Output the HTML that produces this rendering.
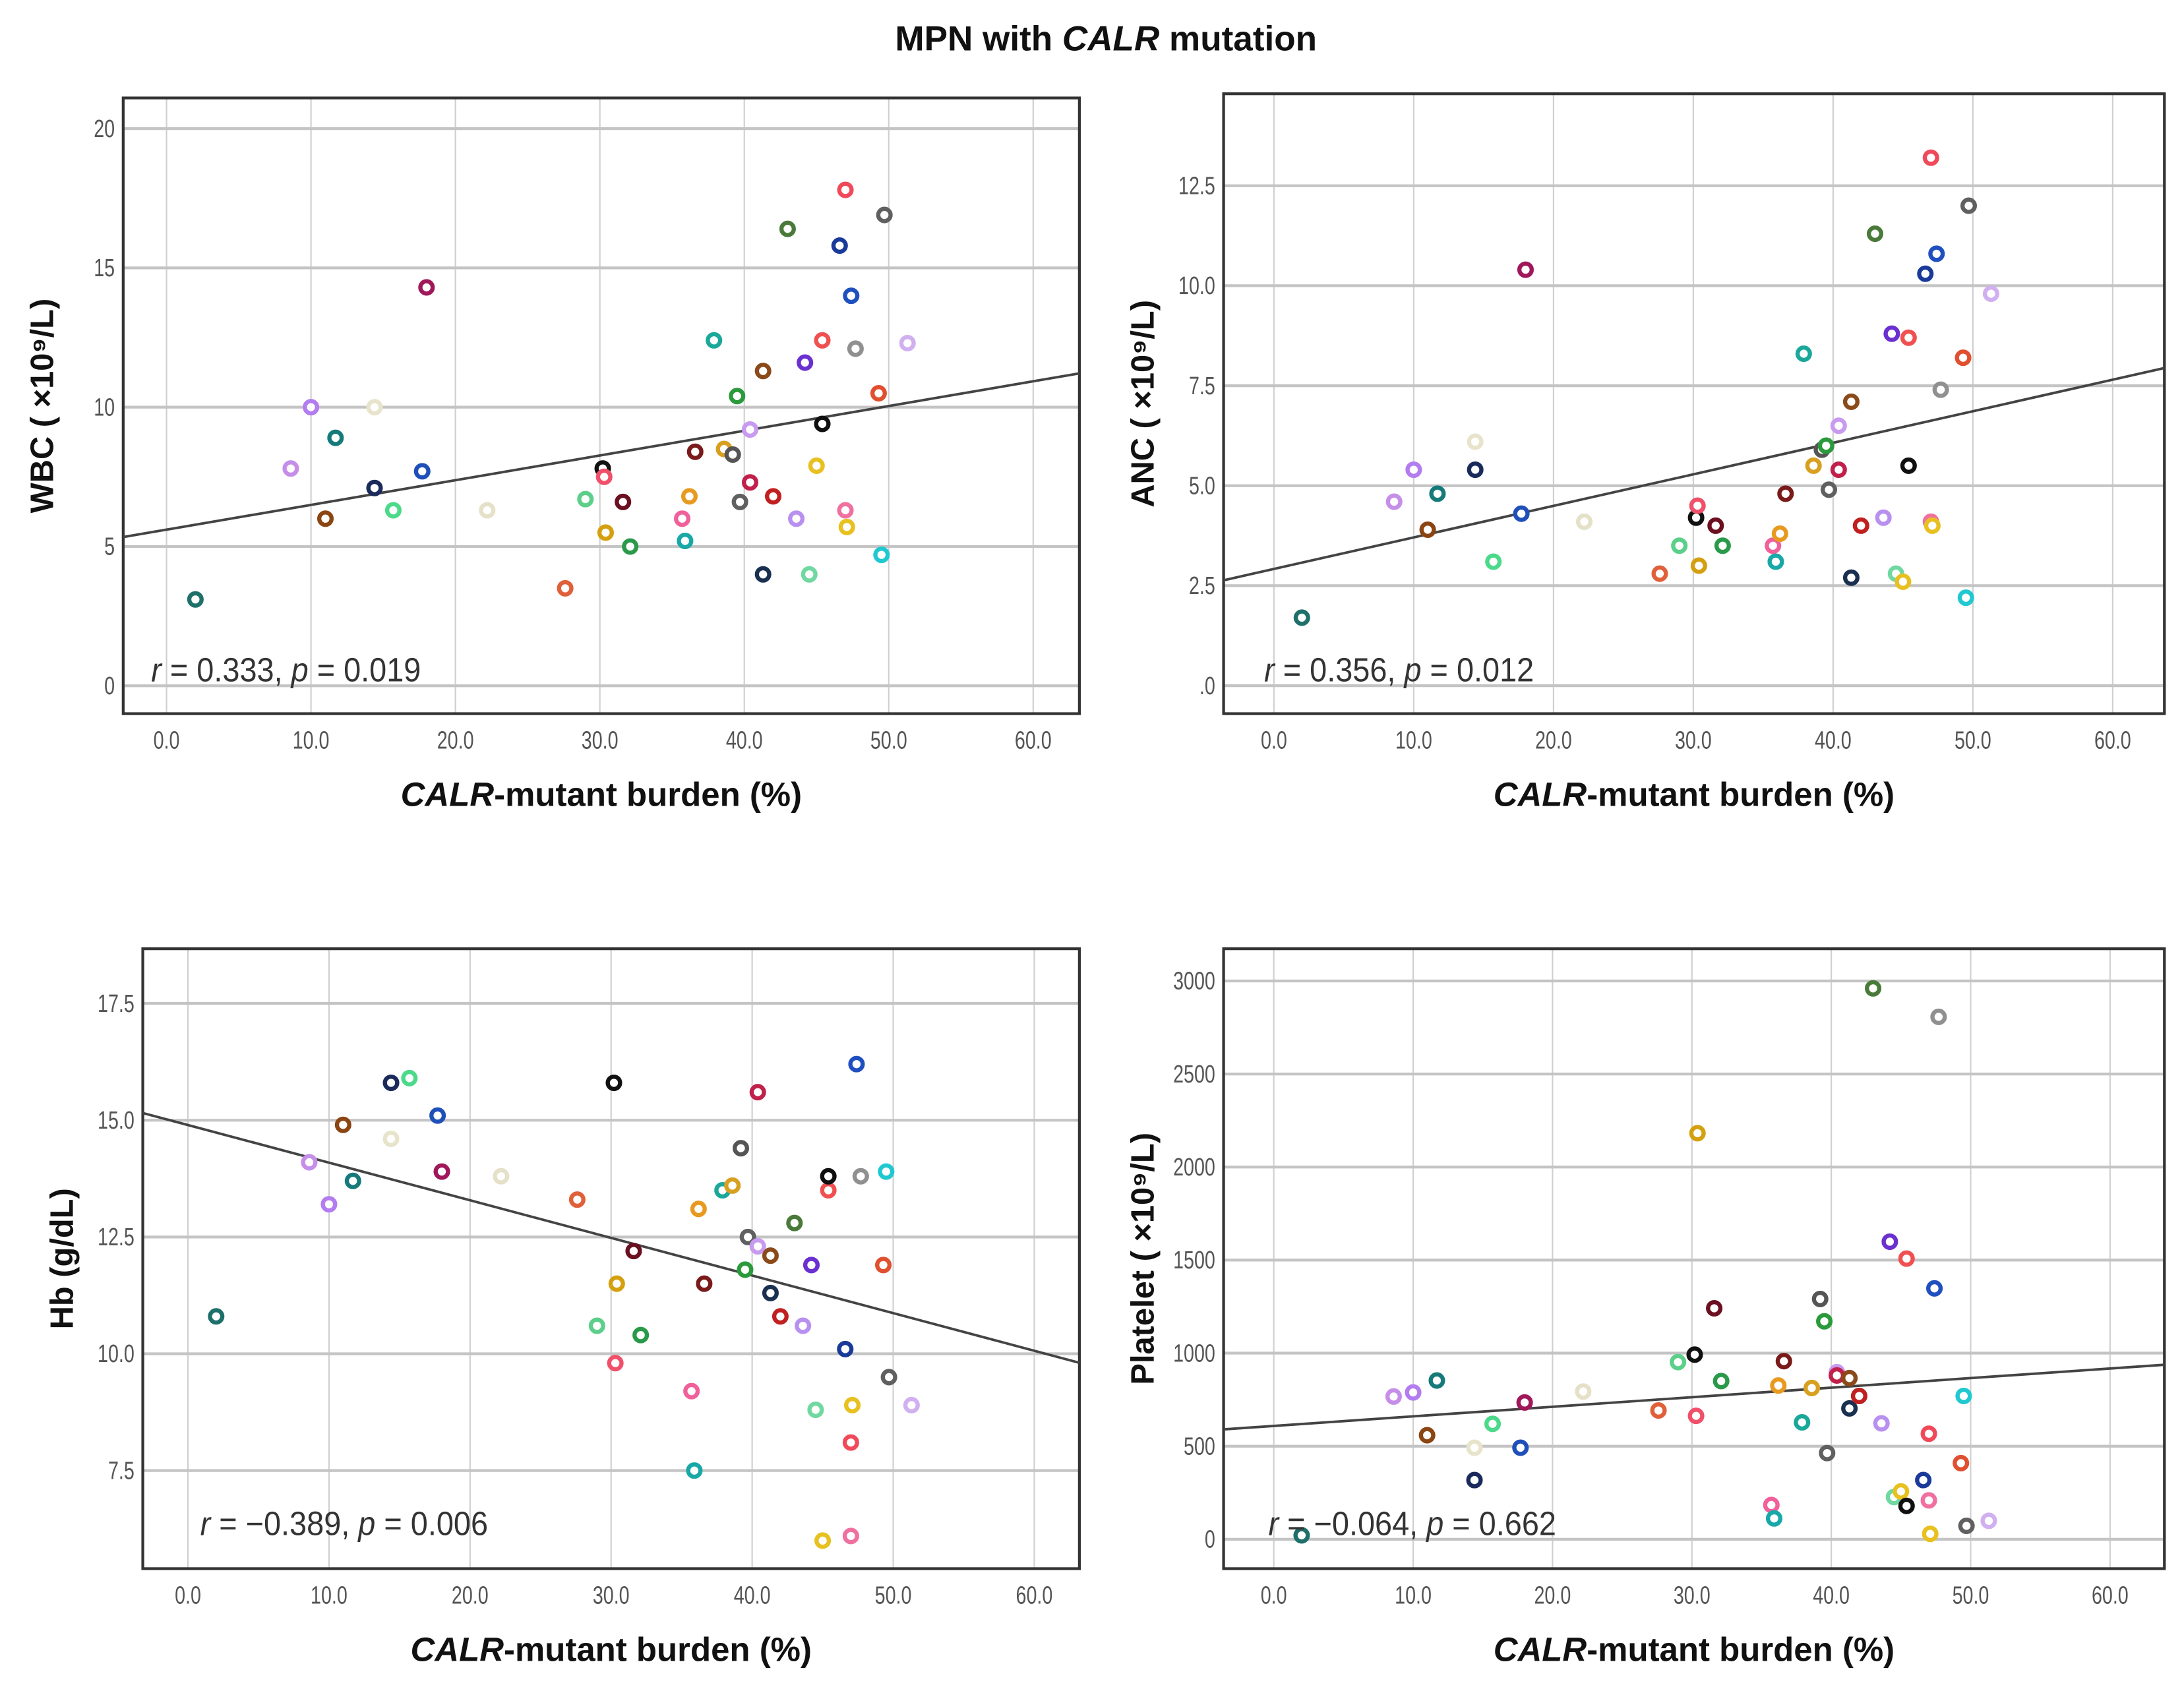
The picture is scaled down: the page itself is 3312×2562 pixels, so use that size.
<!DOCTYPE html>
<html><head><meta charset="utf-8"><style>
html,body{margin:0;padding:0;background:#fff;}
svg{display:block;}
text{font-family:"Liberation Sans",sans-serif;}
</style></head><body>
<svg id="chart" width="3312" height="2562" viewBox="0 0 1560 1207" preserveAspectRatio="none" xmlns="http://www.w3.org/2000/svg">
<rect width="1560" height="1207" fill="#fff"/>
<text x="790" y="36" text-anchor="middle" font-size="25" font-weight="bold" fill="#111">MPN with <tspan font-style="italic">CALR</tspan> mutation</text>
</svg>
<script>
const burden = [2.0,8.6,10.0,11.0,11.7,14.4,14.4,15.7,17.7,18.0,22.2,27.6,29.0,30.2,30.3,30.4,31.6,32.1,35.7,35.9,36.2,36.6,37.9,38.6,39.2,39.5,39.7,40.4,40.4,41.3,41.3,42.0,43.0,43.6,44.2,44.5,45.0,45.4,45.4,46.6,47.0,47.0,47.1,47.4,47.7,49.3,49.5,49.7,51.3];
const wbc = [3.1,7.8,10.0,6.0,8.9,7.1,10.0,6.3,7.7,14.3,6.3,3.5,6.7,7.8,7.5,5.5,6.6,5.0,6.0,5.2,6.8,8.4,12.4,8.5,8.3,10.4,6.6,9.2,7.3,4.0,11.3,6.8,16.4,6.0,11.6,4.0,7.9,12.4,9.4,15.8,17.8,6.3,5.7,14.0,12.1,10.5,4.7,16.9,12.3];
const anc = [1.7,4.6,5.4,3.9,4.8,5.4,6.1,3.1,4.3,10.4,4.1,2.8,3.5,4.2,4.5,3.0,4.0,3.5,3.5,3.1,3.8,4.8,8.3,5.5,5.9,6.0,4.9,6.5,5.4,2.7,7.1,4.0,11.3,4.2,8.8,2.8,2.6,8.7,5.5,10.3,13.2,4.1,4.0,10.8,7.4,8.2,2.2,12.0,9.8];
const hb = [10.8,14.1,13.2,14.9,13.7,15.8,14.6,15.9,15.1,13.9,13.8,13.3,10.6,15.8,9.8,11.5,12.2,10.4,9.2,7.5,13.1,11.5,13.5,13.6,14.4,11.8,12.5,12.3,15.6,11.3,12.1,10.8,12.8,10.6,11.9,8.8,6.0,13.5,13.8,10.1,8.1,6.1,8.9,16.2,13.8,11.9,13.9,9.5,8.9];
const platelet = [21,767,789,559,853,318,492,620,492,735,794,692,952,992,663,2182,1241,850,184,112,826,957,628,813,1291,1171,463,898,880,703,866,770,2960,623,1599,227,257,1508,179,318,567,209,29,1348,2807,409,770,72,99];
const pointColors = ["#1f6f6a","#c58ee8","#b37cf0","#8b4513","#177a7a","#1a2a5a","#e8e4cc","#4cd98a","#1f4fb8","#a0175a","#e5e0c8","#e0603a","#5ccf8a","#111111","#f0506a","#d4a010","#6b1020","#2a9a4a","#f0609a","#18a8a8","#e89a20","#7a1a1a","#1aa89a","#d8a020","#555555","#2a9a3a","#606060","#c89af0","#c0204a","#1a3050","#8b4a1a","#c02020","#4a7a3a","#b890f0","#6a30d0","#70d8a0","#e8c020","#f05050","#101010","#1a3a9a","#f04a5a","#f070a0","#e8c020","#2050c0","#909090","#e05030","#20c8d0","#606060","#d0b0f0"];
const xTicks = [0,10,20,30,40,50,60];
const xTickLabels = ["0.0","10.0","20.0","30.0","40.0","50.0","60.0"];
const wbcTicks = [0,5,10,15,20];
const wbcTickLabels = ["0","5","10","15","20"];
const ancTicks = [0,2.5,5,7.5,10,12.5];
const ancTickLabels = [".0","2.5","5.0","7.5","10.0","12.5"];
const hbTicks = [7.5,10,12.5,15,17.5];
const hbTickLabels = ["7.5","10.0","12.5","15.0","17.5"];
const pltTicks = [0,500,1000,1500,2000,2500,3000];
const pltTickLabels = ["0","500","1000","1500","2000","2500","3000"];
const statLabels = ["=  0.333, ","=  0.019","= 0.356, ","= 0.012","= \u22120.389, ","= 0.006","= \u22120.064, ","= 0.662"];

const NS="http://www.w3.org/2000/svg";
const svg=document.getElementById('chart');
function mk(tag,attrs,parent){const e=document.createElementNS(NS,tag);for(const k in attrs)e.setAttribute(k,attrs[k]);(parent||svg).appendChild(e);return e;}

const panels=[
 {name:'wbc',L:88,R:771,T:70,B:510,x0:-3.0,x1:63.2,y0:-1.0,y1:21.1,vals:wbc,ticks:wbcTicks,labels:wbcTickLabels,title:'WBC ( \u00d710\u2079/L)',stat:[108,487],si:0,xt:567},
 {name:'anc',L:874,R:1546,T:67,B:510,x0:-3.6,x1:63.7,y0:-0.7,y1:14.8,vals:anc,ticks:ancTicks,labels:ancTickLabels,title:'ANC ( \u00d710\u2079/L)',stat:[903,487],si:2,xt:567},
 {name:'hb',L:102,R:771,T:678,B:1121,x0:-3.2,x1:63.2,y0:5.4,y1:18.67,vals:hb,ticks:hbTicks,labels:hbTickLabels,title:'Hb (g/dL)',stat:[143,1097],si:4,xt:1178},
 {name:'platelet',L:874,R:1546,T:678,B:1121,x0:-3.6,x1:63.9,y0:-158,y1:3173,vals:platelet,ticks:pltTicks,labels:pltTickLabels,title:'Platelet ( \u00d710\u2079/L)',stat:[906,1097],si:6,xt:1178}
];

panels.forEach(p=>{
 const g=mk('g',{});
 
 
 const sx=v=>p.L+(v-p.x0)/(p.x1-p.x0)*(p.R-p.L);
 const sy=v=>p.B-(v-p.y0)/(p.y1-p.y0)*(p.B-p.T);
 xTicks.forEach((t,i)=>{
  const l=mk('line',{x1:sx(t),x2:sx(t),y1:p.T,y2:p.B,stroke:'#cfcfcf','stroke-width':1},g);
  
  
  const tx=mk('text',{x:sx(t),y:p.B+25,'text-anchor':'middle','font-size':18,fill:'#555',transform:`translate(${sx(t)},0) scale(0.75,1) translate(${-sx(t)},0)`},g);
  tx.textContent=xTickLabels[i];
  
  
 });
 p.ticks.forEach((t,i)=>{
  const l=mk('line',{x1:p.L,x2:p.R,y1:sy(t),y2:sy(t),stroke:'#c4c4c4','stroke-width':2},g);
  
  
  const tx=mk('text',{x:p.L-6,y:sy(t)+6,'text-anchor':'end','font-size':18,fill:'#555',transform:`translate(${p.L-6},0) scale(0.75,1) translate(${-(p.L-6)},0)`},g);
  tx.textContent=p.labels[i];
  
  
 });
 const fr=mk('rect',{x:p.L,y:p.T,width:p.R-p.L,height:p.B-p.T,fill:'none',stroke:'#333','stroke-width':2},g);
 
 
 const n=burden.length;let mx=0,my=0;for(let i=0;i<n;i++){mx+=burden[i];my+=p.vals[i];}mx/=n;my/=n;
 let sxy=0,sxx=0;for(let i=0;i<n;i++){sxy+=(burden[i]-mx)*(p.vals[i]-my);sxx+=(burden[i]-mx)**2;}
 const b=sxy/sxx,a=my-b*mx;
 const rl=mk('line',{x1:p.L,y1:sy(a+b*p.x0),x2:p.R,y2:sy(a+b*p.x1),stroke:'#444','stroke-width':1.8},g);
 
 
 burden.forEach((x,i)=>{
  const c=mk('circle',{cx:sx(x),cy:sy(p.vals[i]),r:4.4,fill:'#fff',stroke:pointColors[i],'stroke-width':3},g);
  
  
 });
 const st=mk('text',{x:p.stat[0],y:p.stat[1],'font-size':24,fill:'#333',transform:`translate(${p.stat[0]},0) scale(0.92,1) translate(${-p.stat[0]},0)`},g);
 st.innerHTML=`<tspan font-style="italic">r</tspan> ${statLabels[p.si]}<tspan font-style="italic">p</tspan> ${statLabels[p.si+1]}`;
 
 
 const cx=(p.L+p.R)/2;
 const xt=mk('text',{x:cx,y:p.xt+9,'text-anchor':'middle','font-size':24,'font-weight':'bold',fill:'#111'},g);
 xt.innerHTML='<tspan font-style="italic">CALR</tspan>-mutant burden (%)';
 
 
 const cy=(p.T+p.B)/2, tx0=p.L-50;
 const yt=mk('text',{x:tx0,y:cy,'text-anchor':'middle','font-size':23,'font-weight':'bold',fill:'#111',transform:`rotate(-90 ${tx0} ${cy})`},g);
 yt.textContent=p.title;
 
 
});
</script>
</body></html>
